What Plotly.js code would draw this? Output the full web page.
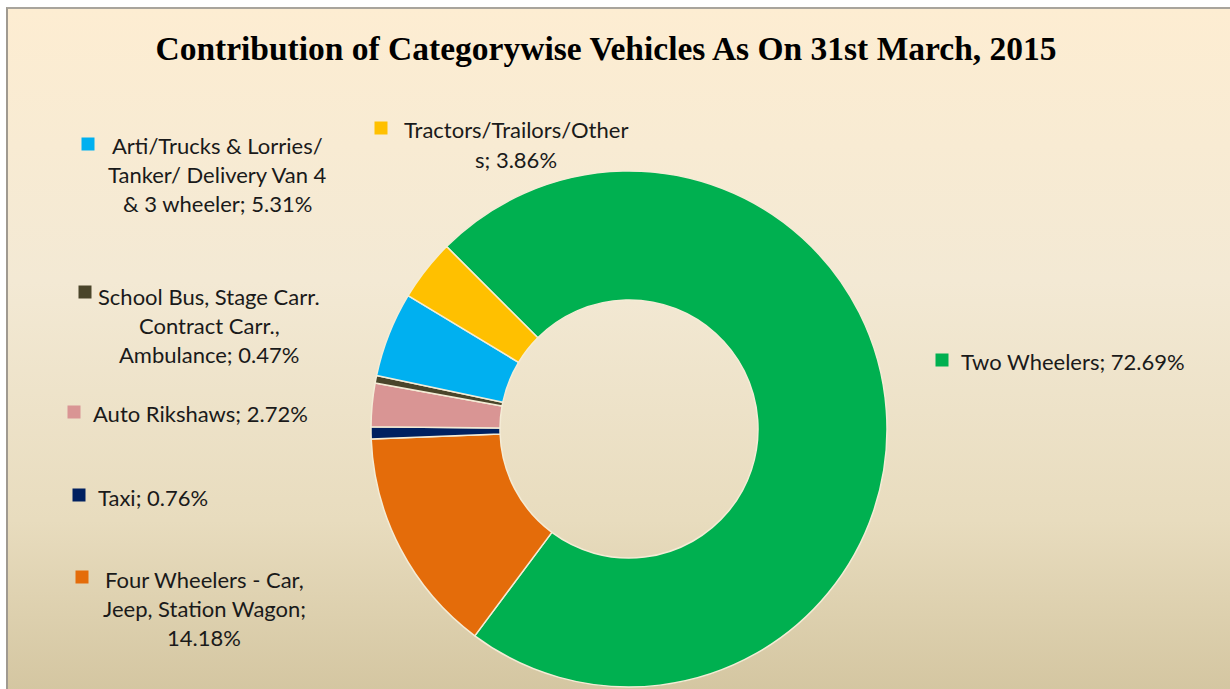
<!DOCTYPE html>
<html>
<head>
<meta charset="utf-8">
<script src="https://cdn.plot.ly/plotly-3.0.1.min.js"></script>
<style>
  html, body { margin: 0; padding: 0; background: #ffffff; }
  #frame {
    position: absolute; left: 6px; top: 7px; width: 1222px; height: 682px;
    border-left: 2px solid #a09a90; border-top: 2px solid #a8a49c; border-right: 1px solid #c8c0b0;
    background: linear-gradient(to bottom, #fdedd2 0%, #f3e9d4 40%, #e8dcbe 75%, #d4c6a1 100%);
  }
  #chart { position: absolute; left: 0; top: 0; width: 1230px; height: 689px; }
</style>
</head>
<body>
<div id="frame"></div>
<div id="chart"></div>
<script>
// ---- data ----
const categories = [
  "Two Wheelers",
  "Four Wheelers - Car, Jeep, Station Wagon",
  "Taxi",
  "Auto Rikshaws",
  "School Bus, Stage Carr. Contract Carr., Ambulance",
  "Arti/Trucks & Lorries/ Tanker/ Delivery Van 4 & 3 wheeler",
  "Tractors/Trailors/Others"
];
const shares = [72.69, 14.18, 0.76, 2.72, 0.47, 5.31, 3.86];
const colors = ["#00b050", "#e46c0a", "#002060", "#d99594", "#4a452a", "#00b0f0", "#ffc000"];
// label line-wrapping as shown in the chart
const labelLines = [
  ["Two Wheelers; 72.69%"],
  ["Four Wheelers - Car,", "Jeep, Station Wagon;", "14.18%"],
  ["Taxi; 0.76%"],
  ["Auto Rikshaws; 2.72%"],
  ["School Bus, Stage Carr.", "Contract Carr.,", "Ambulance; 0.47%"],
  ["Arti/Trucks & Lorries/", "Tanker/ Delivery Van 4", "& 3 wheeler; 5.31%"],
  ["Tractors/Trailors/Other", "s; 3.86%"]
];
const titleText = "Contribution of Categorywise Vehicles As On 31st March, 2015";

// ---- layout helpers (pixel -> paper) ----
const W = 1230, H = 689;
const px = x => x / W;
const py = y => 1 - y / H;

// label block centres (x, y of first line) and legend-key positions
const labelPos = [
  [1073, 361], [204, 579], [153, 497], [200, 413], [209, 296], [217, 145], [516, 130]
];
const keyPos = [
  [942, 360], [82, 577], [79, 495], [74, 412], [85, 292], [88, 144], [381, 128]
];
const lineGap = 29;

const annotations = [];
labelLines.forEach((lines, i) => {
  lines.forEach((ln, j) => {
    annotations.push({
      xref: "paper", yref: "paper",
      x: px(labelPos[i][0]), y: py(labelPos[i][1] + j * lineGap),
      xanchor: "center", yanchor: "middle",
      text: ln, showarrow: false,
      font: { family: "Lato, 'Open Sans', sans-serif", size: 22, color: "#1a1a1a" }
    });
  });
});

const shapes = keyPos.map((p, i) => ({
  type: "rect", xref: "paper", yref: "paper",
  x0: px(p[0] - 6.5), x1: px(p[0] + 6.5),
  y0: py(p[1] + 6.5), y1: py(p[1] - 6.5),
  fillcolor: colors[i], line: { width: 0 }
}));

const trace = {
  type: "pie",
  labels: categories,
  values: shares,
  hole: 0.5,
  sort: false,
  direction: "clockwise",
  rotation: -45,
  textinfo: "none",
  hoverinfo: "label+percent",
  marker: { colors: colors, line: { color: "#f4ecd6", width: 1.5 } },
  domain: { x: [px(371), px(887)], y: [py(687), py(171)] },
  showlegend: false
};

const layout = {
  width: W, height: H,
  margin: { l: 0, r: 0, t: 0, b: 0 },
  paper_bgcolor: "rgba(0,0,0,0)",
  plot_bgcolor: "rgba(0,0,0,0)",
  title: {
    text: "<b>" + titleText + "</b>",
    font: { family: "'Liberation Serif', 'Times New Roman', serif", size: 33.5, color: "#000000" },
    x: px(606), xanchor: "center",
    y: py(48), yanchor: "middle", xref: "paper", yref: "paper"
  },
  annotations: annotations,
  shapes: shapes,
  showlegend: false
};

Plotly.newPlot("chart", [trace], layout, { displayModeBar: false, staticPlot: true });
</script>
</body>
</html>
